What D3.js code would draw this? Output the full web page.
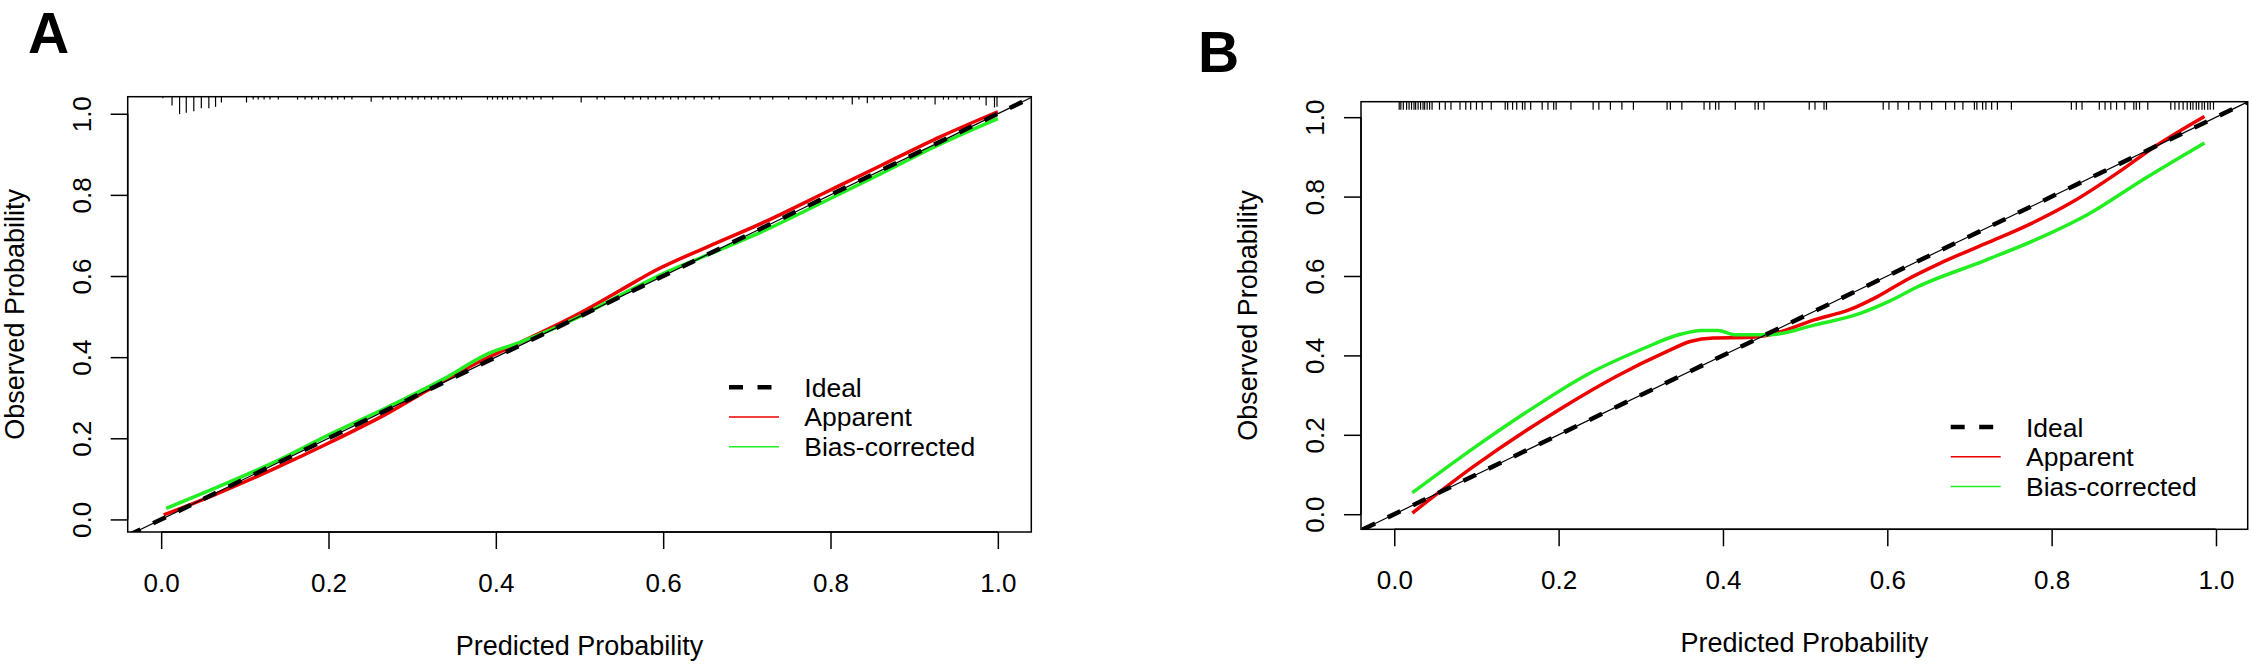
<!DOCTYPE html>
<html><head><meta charset="utf-8">
<script src="https://cdn.jsdelivr.net/npm/d3@7"></script>
<style>
body{margin:0;background:#fff}
svg{display:block}
text{font-family:"Liberation Sans",Arial,Helvetica,sans-serif;fill:#000}
</style>
</head><body>
<svg id="chart" width="2252" height="667"></svg>
<script>
// ---------- data ----------
const tickValues = [0, 0.2, 0.4, 0.6, 0.8, 1.0];
const tickLabels = ["0.0", "0.2", "0.4", "0.6", "0.8", "1.0"];
const legendLabels = ["Ideal", "Apparent", "Bias-corrected"];
const xTitle = "Predicted Probability";
const yTitle = "Observed Probability";

// Panel A
const aApparentX = [0.003, 0.063, 0.132, 0.201, 0.271, 0.319, 0.375, 0.431, 0.500, 0.549, 0.590, 0.653, 0.722, 0.792, 0.861, 0.931, 1.000];
const aApparentY = [0.011, 0.060, 0.122, 0.189, 0.262, 0.319, 0.383, 0.438, 0.508, 0.565, 0.613, 0.672, 0.734, 0.804, 0.873, 0.943, 1.005];
const aBiasX = [0.006, 0.063, 0.132, 0.201, 0.271, 0.340, 0.389, 0.431, 0.500, 0.549, 0.597, 0.653, 0.722, 0.792, 0.861, 0.931, 1.000];
const aBiasY = [0.027, 0.076, 0.138, 0.209, 0.277, 0.349, 0.407, 0.438, 0.500, 0.553, 0.603, 0.652, 0.713, 0.783, 0.853, 0.925, 0.988];
// rug: predicted value, relative frequency
const aRugX = [0.002, 0.013, 0.022, 0.030, 0.039, 0.048, 0.057, 0.065, 0.072, 0.102, 0.110, 0.116, 0.123, 0.130, 0.140,
  0.163, 0.172, 0.180, 0.188, 0.196, 0.204, 0.211, 0.219, 0.228, 0.251, 0.265, 0.274, 0.283, 0.292, 0.300, 0.307,
  0.315, 0.323, 0.331, 0.338, 0.345, 0.353, 0.359, 0.390, 0.396, 0.402, 0.408, 0.414, 0.420, 0.429, 0.437, 0.445,
  0.454, 0.468, 0.502, 0.521, 0.530, 0.554, 0.564, 0.573, 0.582, 0.591, 0.600, 0.609, 0.618, 0.627, 0.637, 0.649,
  0.658, 0.667, 0.704, 0.716, 0.731, 0.750, 0.771, 0.783, 0.795, 0.803, 0.815, 0.826, 0.834, 0.844, 0.852, 0.862,
  0.872, 0.888, 0.896, 0.905, 0.913, 0.925, 0.935, 0.941, 0.951, 0.959, 0.967, 0.978, 0.986, 0.996, 0.999];
const aRugF = [0.5, 3, 6, 5.5, 5, 4, 4, 3.5, 2, 2, 1, 1, 1, 1, 1,
  1, 1, 1, 1, 1, 1, 1, 1, 1, 1.7, 1, 1, 1, 1, 1, 1,
  1, 1, 1, 1, 1, 1, 1, 1, 1, 1, 1, 1, 1, 1, 1, 1,
  1, 1, 2, 1, 1, 1, 1, 1, 1, 1, 1, 1, 1, 1, 1, 1,
  1, 1, 1, 1, 1, 1, 1, 1, 1, 1, 1, 2.7, 1, 2.3, 1, 1,
  1, 1, 1, 1, 1, 2.7, 1, 1, 1, 1, 1, 1, 3, 3.7, 3.5];

// Panel B
const bApparentX = [0.022, 0.097, 0.201, 0.270, 0.332, 0.360, 0.388, 0.429, 0.457, 0.512, 0.554, 0.588, 0.623, 0.664, 0.720, 0.775, 0.824, 0.886, 0.927, 0.986];
const bApparentY = [0.003, 0.121, 0.264, 0.347, 0.410, 0.435, 0.444, 0.445, 0.452, 0.490, 0.515, 0.548, 0.590, 0.632, 0.682, 0.732, 0.785, 0.868, 0.928, 1.002];
const bBiasX = [0.022, 0.097, 0.166, 0.235, 0.304, 0.346, 0.374, 0.394, 0.415, 0.457, 0.512, 0.567, 0.602, 0.637, 0.720, 0.789, 0.844, 0.913, 0.986];
const bBiasY = [0.054, 0.167, 0.264, 0.352, 0.418, 0.452, 0.463, 0.463, 0.452, 0.452, 0.477, 0.506, 0.536, 0.573, 0.640, 0.699, 0.755, 0.845, 0.935];
const bRugX = [0.006, 0.008, 0.011, 0.015, 0.018, 0.021, 0.024, 0.026, 0.029, 0.032, 0.035, 0.037, 0.040, 0.043, 0.046,
  0.055, 0.062, 0.069, 0.080, 0.087, 0.093, 0.100, 0.107, 0.118, 0.135, 0.138, 0.144, 0.149, 0.156, 0.159,
  0.166, 0.180, 0.187, 0.194, 0.197, 0.215, 0.242, 0.249, 0.263, 0.277, 0.291, 0.332, 0.336, 0.350,
  0.377, 0.384, 0.391, 0.395, 0.415, 0.439, 0.443, 0.450, 0.505, 0.512, 0.523, 0.526,
  0.595, 0.602, 0.613, 0.626, 0.640, 0.654, 0.671, 0.682, 0.692, 0.706, 0.709, 0.716, 0.720, 0.727, 0.734, 0.751,
  0.824, 0.830, 0.837, 0.858, 0.865, 0.872, 0.879, 0.889, 0.900, 0.903, 0.907, 0.917,
  0.945, 0.950, 0.955, 0.960, 0.965, 0.969, 0.972, 0.976, 0.979, 0.983, 0.986, 0.990, 0.993, 0.997];

// ---------- drawing ----------
const svg = d3.select("#chart");
const font = 26;
const RED = "#ee0000", GREEN = "#22ee22";

const panels = [
  { letter: "A", lx: 28, ly: 53, box: [127.7, 1031.3, 96.7, 532], xd: [-0.04, 1.04], yd: [-0.031, 1.042],
    app: [aApparentX, aApparentY], bias: [aBiasX, aBiasY], rugX: aRugX, rugF: aRugF, rugUnit: 2.9,
    legX: 601.3, legY: 290.6 },
  { letter: "B", lx: 1198, ly: 72, box: [1361, 2247.7, 101.7, 529.3], xd: [-0.0405, 1.0386], yd: [-0.038, 1.039],
    app: [bApparentX, bApparentY], bias: [bBiasX, bBiasY], rugX: bRugX, rugF: bRugX.map(() => 1), rugUnit: 8,
    legX: 589.7, legY: 325.3 }
];

panels.forEach((p, i) => {
  const [x0, x1, y0, y1] = p.box;
  const x = d3.scaleLinear().domain(p.xd).range([x0, x1]);
  const y = d3.scaleLinear().domain(p.yd).range([y1, y0]);
  const g = svg.append("g");

  // panel letter
  g.append("text").attr("x", p.lx).attr("y", p.ly)
    .style("font-size", "57px").style("font-weight", "bold").text(p.letter);

  const clipId = "clip" + i;
  svg.append("defs").append("clipPath").attr("id", clipId)
    .append("rect").attr("x", x0).attr("y", y0).attr("width", x1 - x0).attr("height", y1 - y0);

  const plot = g.append("g").attr("clip-path", `url(#${clipId})`);
  const line = d3.line().x(d => x(d[0])).y(d => y(d[1])).curve(d3.curveMonotoneX);

  // curves
  const appPts = p.app[0].map((v, k) => [v, p.app[1][k]]);
  const biasPts = p.bias[0].map((v, k) => [v, p.bias[1][k]]);
  plot.append("path").attr("d", line(appPts)).attr("fill", "none").attr("stroke", RED).attr("stroke-width", 3.5);
  plot.append("path").attr("d", line(biasPts)).attr("fill", "none").attr("stroke", GREEN).attr("stroke-width", 3.5);

  // ideal line (thin solid + thick dashes)
  const ideal = [[-0.1, -0.1], [1.1, 1.1]];
  const lin = d3.line().x(d => x(d[0])).y(d => y(d[1]));
  plot.append("path").attr("d", lin(ideal)).attr("stroke", "#000").attr("stroke-width", 1.2).attr("fill", "none");
  plot.append("path").attr("d", lin(ideal)).attr("stroke", "#000").attr("stroke-width", 4.5)
    .attr("stroke-dasharray", "14,14").attr("fill", "none");

  // rug
  const rugLen = d3.scaleLinear().domain([0, 1]).range([0, p.rugUnit]);
  g.append("g").selectAll("line").data(p.rugX.map((v, k) => [v, p.rugF[k]])).join("line")
    .attr("x1", d => x(d[0])).attr("x2", d => x(d[0]))
    .attr("y1", y0).attr("y2", d => y0 + rugLen(d[1]))
    .attr("stroke", "#000").attr("stroke-width", 1.2);

  // box
  g.append("rect").attr("x", x0).attr("y", y0).attr("width", x1 - x0).attr("height", y1 - y0)
    .attr("fill", "none").attr("stroke", "#000").attr("stroke-width", 1.5);

  // x axis
  const xAxis = d3.axisBottom(x).tickValues(tickValues).tickSize(17).tickSizeOuter(0)
    .tickFormat((d, k) => tickLabels[k]);
  const xa = g.append("g").attr("transform", `translate(0,${y1})`).call(xAxis);
  xa.select(".domain").attr("d", `M${x(0)},0H${x(1)}`).attr("stroke-width", 1.5);
  xa.selectAll(".tick line").attr("stroke-width", 1.5);
  xa.selectAll(".tick text").attr("y", 60).attr("dy", 0)
    .style("font-size", font + "px").style("font-family", "Liberation Sans, Arial, sans-serif");

  // y axis
  const yAxis = d3.axisLeft(y).tickValues(tickValues).tickSize(17).tickSizeOuter(0)
    .tickFormat((d, k) => tickLabels[k]);
  const ya = g.append("g").attr("transform", `translate(${x0},0)`).call(yAxis);
  ya.select(".domain").attr("d", `M0,${y(0)}V${y(1)}`).attr("stroke-width", 1.5);
  ya.selectAll(".tick line").attr("stroke-width", 1.5);
  ya.selectAll(".tick text").attr("x", null).attr("dy", 0)
    .attr("transform", "translate(-37,0) rotate(-90)").attr("text-anchor", "middle")
    .style("font-size", font + "px").style("font-family", "Liberation Sans, Arial, sans-serif");

  // titles
  g.append("text").attr("x", (x0 + x1) / 2).attr("y", y1 + 123).attr("text-anchor", "middle")
    .style("font-size", "27px").text(xTitle);
  g.append("text").attr("transform", `translate(${x0 - 104},${(y0 + y1) / 2}) rotate(-90)`)
    .attr("text-anchor", "middle").style("font-size", "27px").text(yTitle);

  // legend
  const lg = g.append("g").attr("transform", `translate(${x0 + p.legX},${y0 + p.legY})`);
  const rowH = 29.7;
  const styles = [
    { c: "#000", w: 4.5, dash: "14,14.5", len: 43 },
    { c: RED, w: 1.5, dash: null, len: 50 },
    { c: GREEN, w: 1.5, dash: null, len: 50 }
  ];
  legendLabels.forEach((lab, k) => {
    const s = styles[k];
    lg.append("line").attr("x1", 0).attr("x2", s.len).attr("y1", k * rowH).attr("y2", k * rowH)
      .attr("stroke", s.c).attr("stroke-width", s.w).attr("stroke-dasharray", s.dash);
    lg.append("text").attr("x", 75.3).attr("y", k * rowH + 9.5).style("font-size", "26.5px").text(lab);
  });
});
</script>
</body></html>
